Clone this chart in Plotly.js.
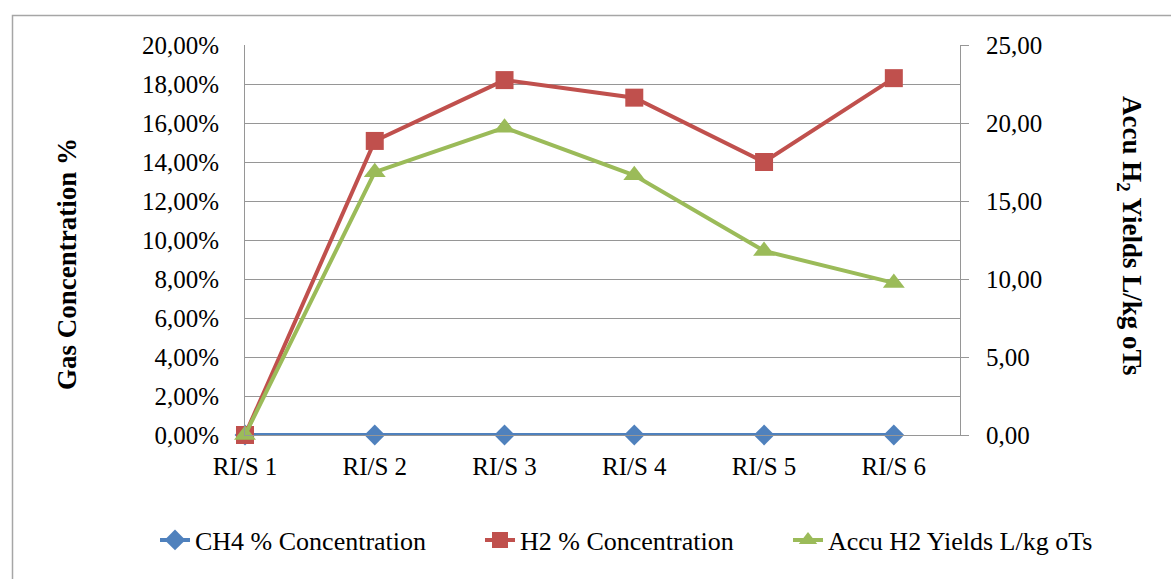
<!DOCTYPE html>
<html>
<head>
<meta charset="utf-8">
<script src="https://cdn.plot.ly/plotly-3.0.1.min.js"></script>
<style>
html,body{margin:0;padding:0;background:#fff;}
#chart{width:1171px;height:579px;}
</style>
</head>
<body>
<div id="chart"></div>
<script>
const categories = ["RI/S 1", "RI/S 2", "RI/S 3", "RI/S 4", "RI/S 5", "RI/S 6"];
const ch4Concentration = [0, 0, 0, 0, 0, 0];
const h2Concentration = [0, 0.1508, 0.1820, 0.1730, 0.1400, 0.1830];
const accuH2Yields = [0, 16.85, 19.70, 16.65, 11.80, 9.75];
const seriesNames = ["CH4 % Concentration", "H2 % Concentration", "Accu H2 Yields L/kg oTs"];
const leftTicks = [0, 0.02, 0.04, 0.06, 0.08, 0.10, 0.12, 0.14, 0.16, 0.18, 0.20];
const rightTicks = [0, 5, 10, 15, 20, 25];

const xIdx = categories.map((c, i) => i);
const font = "Liberation Serif";

const traces = [
  {x: xIdx, y: ch4Concentration, name: seriesNames[0], type: 'scatter', mode: 'lines+markers', legend: 'legend', cliponaxis: false,
   line: {color: '#4F81BD', width: 4}, marker: {symbol: 'diamond', size: 16, color: '#4F81BD'}},
  {x: xIdx, y: h2Concentration, name: seriesNames[1], type: 'scatter', mode: 'lines+markers', legend: 'legend2', cliponaxis: false,
   line: {color: '#C0504D', width: 4}, marker: {symbol: 'square', size: 18, color: '#C0504D'}},
  {x: xIdx, y: accuH2Yields, name: seriesNames[2], type: 'scatter', mode: 'lines+markers', yaxis: 'y2', legend: 'legend3', cliponaxis: false,
   line: {color: '#9BBB59', width: 4}, marker: {symbol: 'triangle-up', size: 19, color: '#9BBB59'}}
];

function leg(textStart) {
  return {orientation: 'h', xref: 'container', yref: 'container', x: (textStart - 40) / 1171, xanchor: 'left',
          y: 1 - 540 / 579, yanchor: 'middle', font: {family: font, size: 26}, bgcolor: 'rgba(0,0,0,0)'};
}

const layout = {
  width: 1171, height: 579,
  margin: {l: 245, r: 211, t: 45, b: 144},
  paper_bgcolor: '#fff', plot_bgcolor: '#fff',
  separators: ', ',
  font: {family: font, size: 25, color: '#000'},
  showlegend: true,
  legend: leg(195),
  legend2: leg(520),
  legend3: leg(828),
  xaxis: {range: [0, 5.51], tickvals: xIdx, ticktext: categories, showgrid: false, zeroline: false,
          showline: true, linecolor: '#969696', linewidth: 1, ticks: '', ticklabelstandoff: 9,
          tickfont: {family: font, size: 25}},
  yaxis: {range: [0, 0.20], tickvals: leftTicks, tickformat: '.2%', showgrid: true, gridcolor: '#969696',
          gridwidth: 1, zeroline: false, showline: true, linecolor: '#969696', ticks: '',
          ticklabelstandoff: 20, tickfont: {family: font, size: 25}},
  yaxis2: {range: [0, 25], tickvals: rightTicks, tickformat: '.2f', overlaying: 'y', side: 'right',
           showgrid: false, zeroline: false, showline: true, linecolor: '#969696', ticks: 'outside',
           ticklen: 8, tickcolor: '#969696', ticklabelstandoff: 12, tickfont: {family: font, size: 25}},
  annotations: [
    {text: '<b>Gas Concentration %</b>', xref: 'paper', yref: 'paper', x: (67 - 245) / 715, y: (435 - 264) / 390,
     xanchor: 'center', yanchor: 'middle', textangle: -90, showarrow: false, font: {family: font, size: 27}},
    {text: '<b>Accu H<sub>2</sub> Yields L/kg oTs</b>', xref: 'paper', yref: 'paper', x: (1130 - 245) / 715, y: (435 - 236) / 390,
     xanchor: 'center', yanchor: 'middle', textangle: 90, showarrow: false, font: {family: font, size: 27}}
  ],
  shapes: [
    {type: 'rect', xref: 'paper', yref: 'paper', x0: (12.5 - 245) / 715, x1: (1185 - 245) / 715,
     y0: (435 - 15.5) / 390, y1: (435 - 600) / 390, line: {color: '#A6A6A6', width: 1.5}, fillcolor: 'rgba(0,0,0,0)', layer: 'below'}
  ]
};

Plotly.newPlot('chart', traces, layout, {displayModeBar: false, staticPlot: true});
</script>
</body>
</html>
